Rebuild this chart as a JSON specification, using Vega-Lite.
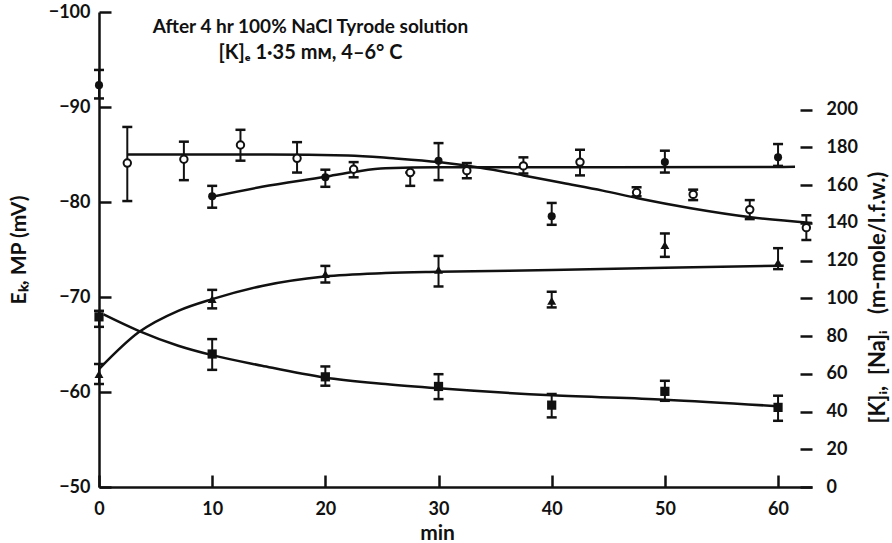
{
  "$schema": "https://vega.github.io/schema/vega-lite/v6.json",
  "width": 713,
  "height": 475,
  "autosize": "none",
  "padding": {"left": 99, "top": 12, "right": 80, "bottom": 56},
  "background": "white",
  "config": {
    "view": {"stroke": null},
    "font": "Lato",
    "axis": {
      "labelFont": "Lato", "titleFont": "Lato", "labelColor": "#111", "titleColor": "#111",
      "domainColor": "#111", "tickColor": "#111", "grid": false, "labelFlush": false,
      "labelOverlap": false, "labelFontSize": 18, "labelFontWeight": "bold",
      "titleFontSize": 21, "titleFontWeight": "bold", "domainWidth": 2.5, "tickWidth": 2.5
    }
  },
  "title": {
    "text": "After 4 hr 100% NaCl Tyrode solution",
    "subtitle": "[K]ₑ 1·35 mᴍ, 4–6° C",
    "anchor": "middle",
    "dx": -145,
    "dy": 64,
    "font": "Lato", "fontSize": 19, "fontWeight": "bold", "color": "#111",
    "subtitleFont": "Lato", "subtitleFontSize": 20, "subtitleFontWeight": "bold", "subtitleColor": "#111",
    "subtitlePadding": 6
  },
  "datasets": {
    "ek": [
      {"t": 0, "v": -92.3, "e1": -93.9, "e2": -90.9},
      {"t": 10, "v": -80.6, "e1": -81.7, "e2": -79.4},
      {"t": 20, "v": -82.6, "e1": -83.4, "e2": -81.6},
      {"t": 30, "v": -84.35, "e1": -86.2, "e2": -82.3},
      {"t": 40, "v": -78.5, "e1": -79.9, "e2": -77.6},
      {"t": 50, "v": -84.2, "e1": -85.4, "e2": -83.1},
      {"t": 60, "v": -84.7, "e1": -86.1, "e2": -83.8}
    ],
    "mp": [
      {"t": 2.5, "v": -84.1, "e1": -87.9, "e2": -80.1},
      {"t": 7.5, "v": -84.5, "e1": -86.35, "e2": -82.3},
      {"t": 12.5, "v": -86.0, "e1": -87.6, "e2": -84.35},
      {"t": 17.5, "v": -84.6, "e1": -86.3, "e2": -83.1},
      {"t": 22.5, "v": -83.45, "e1": -84.2, "e2": -82.6},
      {"t": 27.5, "v": -83.1, "e1": -83.1, "e2": -81.7},
      {"t": 32.5, "v": -83.3, "e1": -84.1, "e2": -82.5},
      {"t": 37.5, "v": -83.8, "e1": -84.7, "e2": -83.0},
      {"t": 42.5, "v": -84.2, "e1": -85.5, "e2": -82.8},
      {"t": 47.5, "v": -81.0, "e1": -81.55, "e2": -80.6},
      {"t": 52.5, "v": -80.8, "e1": -81.3, "e2": -80.2},
      {"t": 57.5, "v": -79.2, "e1": -80.2, "e2": -78.2},
      {"t": 62.5, "v": -77.3, "e1": -78.6, "e2": -76.0}
    ],
    "curveMP": [
      {"t": 2.5, "v": -85.0}, {"t": 15, "v": -85.0}, {"t": 22, "v": -84.9},
      {"t": 26, "v": -84.6}, {"t": 30, "v": -84.2}, {"t": 33.7, "v": -83.6},
      {"t": 37.5, "v": -82.8}, {"t": 41, "v": -82.0}, {"t": 44.5, "v": -81.2},
      {"t": 47.6, "v": -80.4}, {"t": 52.3, "v": -79.35}, {"t": 57.6, "v": -78.4},
      {"t": 63, "v": -77.8}
    ],
    "curveEK": [
      {"t": 10, "v": -80.56}, {"t": 14.4, "v": -81.6}, {"t": 20, "v": -82.66},
      {"t": 22.7, "v": -83.2}, {"t": 25.3, "v": -83.55}, {"t": 30, "v": -83.65},
      {"t": 45, "v": -83.65}, {"t": 61.5, "v": -83.7}
    ],
    "k": [
      {"t": 0, "v": 59.9, "e1": 65.2, "e2": 54.6},
      {"t": 10, "v": 99.6, "e1": 104.5, "e2": 94.7},
      {"t": 20, "v": 112.8, "e1": 117.2, "e2": 108.4},
      {"t": 30, "v": 115.1, "e1": 122.5, "e2": 106.3},
      {"t": 40, "v": 98.7, "e1": 103.5, "e2": 95.2},
      {"t": 50, "v": 128.2, "e1": 134.4, "e2": 122.0},
      {"t": 60, "v": 119.0, "e1": 126.6, "e2": 115.5}
    ],
    "na": [
      {"t": 0, "v": 90.2, "e1": 93.4, "e2": 84.9},
      {"t": 10, "v": 70.5, "e1": 78.4, "e2": 62.1},
      {"t": 20, "v": 58.4, "e1": 63.9, "e2": 53.7},
      {"t": 30, "v": 53.3, "e1": 59.8, "e2": 46.6},
      {"t": 40, "v": 43.4, "e1": 49.3, "e2": 36.9},
      {"t": 50, "v": 50.7, "e1": 56.3, "e2": 45.7},
      {"t": 60, "v": 42.2, "e1": 48.4, "e2": 35.1}
    ],
    "curveK": [
      {"t": 0, "v": 62.5}, {"t": 3.5, "v": 82}, {"t": 7, "v": 93.4}, {"t": 10, "v": 99.6},
      {"t": 14.4, "v": 106.6}, {"t": 19.9, "v": 111.6}, {"t": 25.3, "v": 113.4},
      {"t": 30, "v": 114.1}, {"t": 40, "v": 115.0}, {"t": 50, "v": 116.2}, {"t": 60.5, "v": 117.3}
    ],
    "curveNa": [
      {"t": 0.4, "v": 91.5}, {"t": 3.5, "v": 82.8}, {"t": 7, "v": 74.9}, {"t": 10, "v": 69.9},
      {"t": 14.4, "v": 64.3}, {"t": 19.9, "v": 58.1}, {"t": 25.3, "v": 54.6}, {"t": 30, "v": 52.3},
      {"t": 40, "v": 48.6}, {"t": 50, "v": 46.3}, {"t": 60, "v": 42.8}
    ],
    "one": [{}]
  },
  "encoding": {
    "x": {
      "field": "t", "type": "quantitative",
      "scale": {"domain": [0, 63], "nice": false, "zero": false},
      "axis": {
        "values": [0, 10, 20, 30, 40, 50, 60], "tickSize": -12, "labelPadding": 25, "zindex": 1,
        "domain": true, "ticks": true, "domainColor": "#111", "tickColor": "#111", "tickOpacity": 1,
        "title": "min", "titleX": 338, "titleY": 52, "titleBaseline": "alphabetic", "titleAlign": "center"
      }
    }
  },
  "layer": [
    {
      "encoding": {
        "y": {"field": "v", "type": "quantitative", "scale": {"domain": [-50, -100], "nice": false, "zero": false},
          "axis": {"orient": "left", "values": [-100, -90, -80, -70, -60, -50], "tickSize": -12, "labelPadding": 21, "zindex": 1,
            "domain": true, "ticks": true, "domainColor": "#111", "tickColor": "#111", "tickOpacity": 1,
            "title": "Eₖ, MP (mV)", "titleAngle": -90, "titleX": -80, "titleAlign": "center", "titleBaseline": "middle"}}
      },
      "layer": [
        {"data": {"name": "one"}, "mark": {"type": "rule", "strokeWidth": 2.5, "color": "#111"},
         "encoding": {"x": {"datum": 0, "type": "quantitative"}, "x2": {"datum": 63}, "y": {"datum": -50, "type": "quantitative"}}},
        {"data": {"name": "one"}, "mark": {"type": "rule", "strokeWidth": 2.5, "color": "#111"},
         "encoding": {"x": {"datum": 0, "type": "quantitative"}, "y": {"datum": -50, "type": "quantitative"}, "y2": {"datum": -100}}},
        {"data": {"name": "curveMP"}, "mark": {"type": "line", "interpolate": "monotone", "strokeWidth": 2.5, "color": "#111"}},
        {"data": {"name": "curveEK"}, "mark": {"type": "line", "interpolate": "monotone", "strokeWidth": 2.5, "color": "#111"}},
        {"data": {"name": "ek"}, "transform": [{"fold": ["e1", "e2"], "as": ["end", "v"]}],
         "mark": {"type": "line", "strokeWidth": 2, "color": "#111"}, "encoding": {"detail": {"field": "t"}}},
        {"data": {"name": "ek"}, "transform": [{"fold": ["e1", "e2"], "as": ["end", "v"]}],
         "mark": {"type": "tick", "orient": "horizontal", "size": 10, "thickness": 2.5, "color": "#111", "opacity": 1}},
        {"data": {"name": "mp"}, "transform": [{"fold": ["e1", "e2"], "as": ["end", "v"]}],
         "mark": {"type": "line", "strokeWidth": 2, "color": "#111"}, "encoding": {"detail": {"field": "t"}}},
        {"data": {"name": "mp"}, "transform": [{"fold": ["e1", "e2"], "as": ["end", "v"]}],
         "mark": {"type": "tick", "orient": "horizontal", "size": 10, "thickness": 2.5, "color": "#111", "opacity": 1}},
        {"data": {"name": "mp"}, "mark": {"type": "point", "shape": "circle", "size": 55, "filled": true, "fill": "white", "stroke": "#111", "strokeWidth": 2, "opacity": 1}},
        {"data": {"name": "ek"}, "mark": {"type": "point", "shape": "circle", "size": 65, "filled": true, "color": "#111", "opacity": 1}}
      ]
    },
    {
      "encoding": {
        "y": {"field": "v", "type": "quantitative", "scale": {"domain": [0, 251.8], "nice": false, "zero": false},
          "axis": {"orient": "right", "values": [0, 20, 40, 60, 80, 100, 120, 140, 160, 180, 200], "tickSize": -12, "labelPadding": 26, "zindex": 1,
            "domain": false, "ticks": true, "tickColor": "#111", "tickOpacity": 1,
            "title": "[K]ᵢ,\u2002[Na]ᵢ\u2003(m-mole/l.f.w.)", "titleFontSize": 22, "titleAngle": -90, "titleX": 65, "titleY": 285,
            "titleAlign": "center", "titleBaseline": "middle"}}
      },
      "layer": [
        {"data": {"name": "one"}, "mark": {"type": "rule", "strokeWidth": 2.5, "color": "#111"},
         "encoding": {"x": {"datum": 63, "type": "quantitative"}, "y": {"datum": 0, "type": "quantitative"}, "y2": {"datum": 200}}},
        {"data": {"name": "curveK"}, "mark": {"type": "line", "interpolate": "monotone", "strokeWidth": 2.5, "color": "#111"}},
        {"data": {"name": "curveNa"}, "mark": {"type": "line", "interpolate": "monotone", "strokeWidth": 2.5, "color": "#111"}},
        {"data": {"name": "k"}, "transform": [{"fold": ["e1", "e2"], "as": ["end", "v"]}],
         "mark": {"type": "line", "strokeWidth": 2, "color": "#111"}, "encoding": {"detail": {"field": "t"}}},
        {"data": {"name": "k"}, "transform": [{"fold": ["e1", "e2"], "as": ["end", "v"]}],
         "mark": {"type": "tick", "orient": "horizontal", "size": 10, "thickness": 2.5, "color": "#111", "opacity": 1}},
        {"data": {"name": "na"}, "transform": [{"fold": ["e1", "e2"], "as": ["end", "v"]}],
         "mark": {"type": "line", "strokeWidth": 2, "color": "#111"}, "encoding": {"detail": {"field": "t"}}},
        {"data": {"name": "na"}, "transform": [{"fold": ["e1", "e2"], "as": ["end", "v"]}],
         "mark": {"type": "tick", "orient": "horizontal", "size": 10, "thickness": 2.5, "color": "#111", "opacity": 1}},
        {"data": {"name": "k"}, "mark": {"type": "point", "shape": "triangle-up", "size": 80, "filled": true, "color": "#111", "opacity": 1}},
        {"data": {"name": "na"}, "mark": {"type": "point", "shape": "square", "size": 85, "filled": true, "color": "#111", "opacity": 1}}
      ]
    }
  ],
  "resolve": {"scale": {"y": "independent"}}
}
